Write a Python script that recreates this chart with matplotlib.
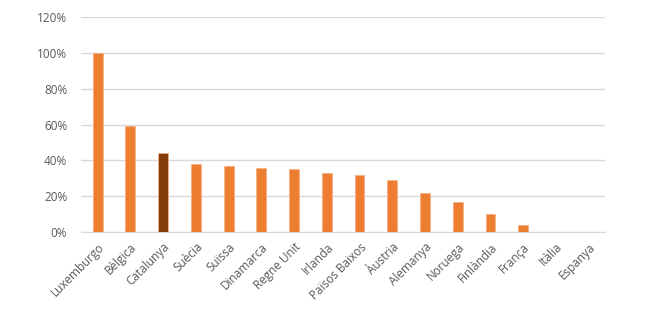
import matplotlib
matplotlib.use("Agg")
import matplotlib.pyplot as plt
from matplotlib.ticker import PercentFormatter

countries = ["Luxemburgo", "Bèlgica", "Catalunya", "Suècia", "Suïssa", "Dinamarca",
             "Regne Unit", "Irlanda", "Països Baixos", "Àustria", "Alemanya",
             "Noruega", "Finlàndia", "França", "Itàlia", "Espanya"]
values = [100, 59, 44, 38, 37, 36, 35, 33, 32, 29, 22, 17, 10, 3.7, 0, 0]
highlight = "Catalunya"

plt.rcParams['font.family'] = ['Open Sans', 'DejaVu Sans']

fig = plt.figure(figsize=(6.5, 3.09), dpi=100)
ax = fig.add_axes([0.125, 0.249, 0.806, 0.696])

colors = ["#843C0C" if c == highlight else "#ED7D31" for c in countries]
x = range(len(countries))
ax.bar(x, values, width=0.3, color=colors, edgecolor="#F4B183", linewidth=0.6, zorder=3)

ax.set_xlim(-0.5, len(countries) - 0.5)
ax.set_ylim(0, 120)
ax.set_yticks(range(0, 121, 20))
ax.yaxis.set_major_formatter(PercentFormatter(decimals=0))
ax.grid(axis='y', color="#D9D9D9", linewidth=1, zorder=0)

ax.set_xticks(list(x))
ax.set_xticklabels(countries, rotation=45, ha='right', rotation_mode='anchor')
ax.tick_params(axis='both', length=0, colors="#595959", labelsize=8.5)
ax.tick_params(axis='y', pad=10)
ax.tick_params(axis='x', pad=6)

for s in ["top", "right", "left"]:
    ax.spines[s].set_visible(False)
ax.spines["bottom"].set_color("#D9D9D9")

fig.savefig("out.png", dpi=100)
